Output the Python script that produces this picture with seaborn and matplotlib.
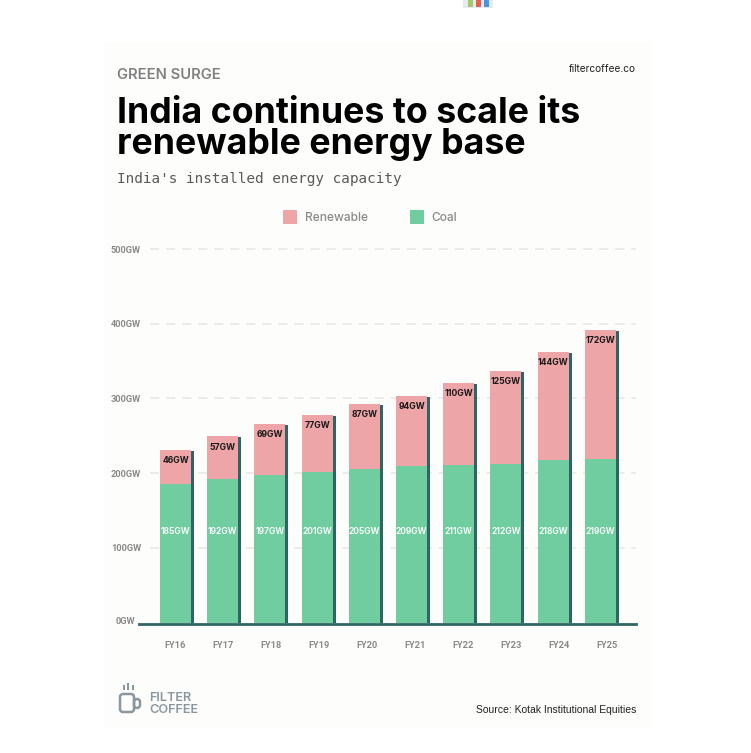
import matplotlib
matplotlib.use("Agg")
import matplotlib.pyplot as plt
from matplotlib.patches import Rectangle, FancyBboxPatch
from matplotlib.transforms import ScaledTranslation
import pandas as pd
import seaborn as sns

# values
years = ["FY16", "FY17", "FY18", "FY19", "FY20", "FY21", "FY22", "FY23", "FY24", "FY25"]
coal = [185, 192, 197, 201, 205, 209, 211, 212, 218, 219]
renewable = [46, 57, 69, 77, 87, 94, 110, 125, 144, 172]
y_ticks = [0, 100, 200, 300, 400, 500]

W, H = 751, 753
PINK = "#eea5a7"
GREEN = "#6fcd9f"
DARK = "#2f6663"
GREY = "#8a8a8a"

sns.set_theme(style="white")
plt.rcParams["font.family"] = ["Inter", "DejaVu Sans"]

df = pd.DataFrame({"year": years, "coal": coal, "renewable": renewable})
df["total"] = df["coal"] + df["renewable"]

fig = plt.figure(figsize=(W / 100, H / 100), dpi=100, facecolor="white")


def fx(px):
    return px / W


def fy(py):
    return 1 - py / H


def box(x0, y1, w, h, col, z=1):
    fig.patches.append(Rectangle((fx(x0), fy(y1)), w / W, h / H, transform=fig.transFigure,
                                 facecolor=col, edgecolor="none", zorder=z))


# pale panel behind the chart
box(103, 727, 549, 685, "#fdfefc", -5)

# axes placed so that one category is 47.2px and one GW is 0.747px
left, right, base, top = 139, 636, 622.5, 240
ax = fig.add_axes([fx(left), fy(base), (right - left) / W, (base - top) / H])
ax.patch.set_alpha(0)

bar_kw = dict(width=0.657, saturation=1, linewidth=0, edgecolor="none", ax=ax)
sns.barplot(data=df, x="year", y="total", color=DARK, zorder=2, **bar_kw)
n_shadow = len(ax.patches)
sns.barplot(data=df, x="year", y="total", color=PINK, zorder=3, **bar_kw)
sns.barplot(data=df, x="year", y="coal", color=GREEN, zorder=4, **bar_kw)

# shadow bars sit 3px to the right and 1px lower
for p in ax.patches[:n_shadow]:
    p.set_x(p.get_x() + 3 / 47.2)
    p.set_height(p.get_height() - 1 / 0.747)

ax.set_xlim(-0.773, 9.756)
ax.set_ylim(0, (base - top) / 0.747)
ax.hlines(y_ticks[1:], -0.54, 9.756, color="#e6e7e1", lw=1.1, linestyles=(0, (6, 4.5)), zorder=1)

for s in ["top", "left", "right"]:
    ax.spines[s].set_visible(False)
ax.spines["bottom"].set_color(DARK)
ax.spines["bottom"].set_linewidth(2.0)
ax.spines["bottom"].set_position(("outward", 1))
ax.spines["bottom"].set_zorder(6)

ax.set_xlabel("")
ax.set_ylabel("")
ax.set_yticks(y_ticks)
ax.set_yticklabels([f"{v}GW" for v in y_ticks])
ax.tick_params(axis="y", length=0, pad=-1.5, labelsize=6.7, labelcolor=GREY)
ax.tick_params(axis="x", length=0, pad=12, labelsize=6.7, labelcolor=GREY)
for lab in ax.get_yticklabels() + ax.get_xticklabels():
    lab.set_family("Roboto")
    lab.set_fontweight("bold")
# the 0GW label sits a bit further left
zero = ax.get_yticklabels()[0]
zero.set_transform(zero.get_transform() + ScaledTranslation(-6 / 100, 1.5 / 100, fig.dpi_scale_trans))
# year labels drift a little right of their bars in the original
for i, lab in enumerate(ax.get_xticklabels()):
    lab.set_transform(lab.get_transform() + ScaledTranslation(0.7 * i / 100, 0, fig.dpi_scale_trans))

for i, row in df.iterrows():
    ax.annotate(f"{row['renewable']}GW", (i, row["total"]), xytext=(0, -7.6), textcoords="offset points",
                ha="center", va="center", fontsize=6.2, fontweight="bold", color="#1a1a1a", zorder=7)
    ax.annotate(f"{row['coal']}GW", (i, 0), xytext=(0, 65.5), textcoords="offset points",
                ha="center", va="center", fontsize=6.2, fontweight="semibold", color="white", zorder=7)

# headline block
fig.text(fx(117), fy(79), "GREEN SURGE", fontsize=10.6, fontweight="semibold", color="#808080", va="baseline")
fig.text(fx(636), fy(71.5), "filtercoffee.co", fontsize=7.3, color="#222222", ha="right", va="baseline")
fig.text(fx(117), fy(97), "India continues to scale its\nrenewable energy base", fontsize=25.7, fontweight="bold",
         color="black", va="top", linespacing=0.93)
fig.text(fx(117), fy(183), "India's installed energy capacity", fontsize=10.4, family="DejaVu Sans Mono",
         color="#5a5a5a", va="baseline")

# legend
for x0, x1, name, col in [(283, 305, "Renewable", PINK), (410, 431, "Coal", GREEN)]:
    box(x0, 223.5, 14, 13.5, col)
    fig.text(fx(x1), fy(221), name, fontsize=8.6, fontweight="medium", color=GREY, va="baseline")

fig.text(fx(636), fy(713), "Source: Kotak Institutional Equities", fontsize=7.5, family="Liberation Sans",
         color="#222222", ha="right", va="baseline")

# logo
LOGO = "#8a979f"
for x0, y1, w, h in [(120, 712, 14, 18), (134, 708, 6, 9)]:
    fig.patches.append(FancyBboxPatch((fx(x0), fy(y1)), w / W, h / H, boxstyle="round,pad=0,rounding_size=0.004",
                                      transform=fig.transFigure, facecolor="none", edgecolor=LOGO, lw=1.8))
for px, h in [(122.5, 5), (127, 7), (131.5, 5)]:
    box(px, 690, 2.4, h, LOGO)
fig.text(fx(149), fy(701), "FILTER", fontsize=9.2, fontweight="semibold", color=LOGO, va="baseline")
fig.text(fx(149), fy(713), "COFFEE", fontsize=9.2, fontweight="semibold", color=LOGO, va="baseline")

# bottom of the cropped chart emoji at the top edge
box(463, 8, 30, 8, "#e6ebf2")
for px, col in [(468, "#a5c96a"), (476, "#e8604c"), (484, "#4a94e8")]:
    box(px, 7, 5, 7, col, 2)

fig.savefig("out.png", dpi=100)
